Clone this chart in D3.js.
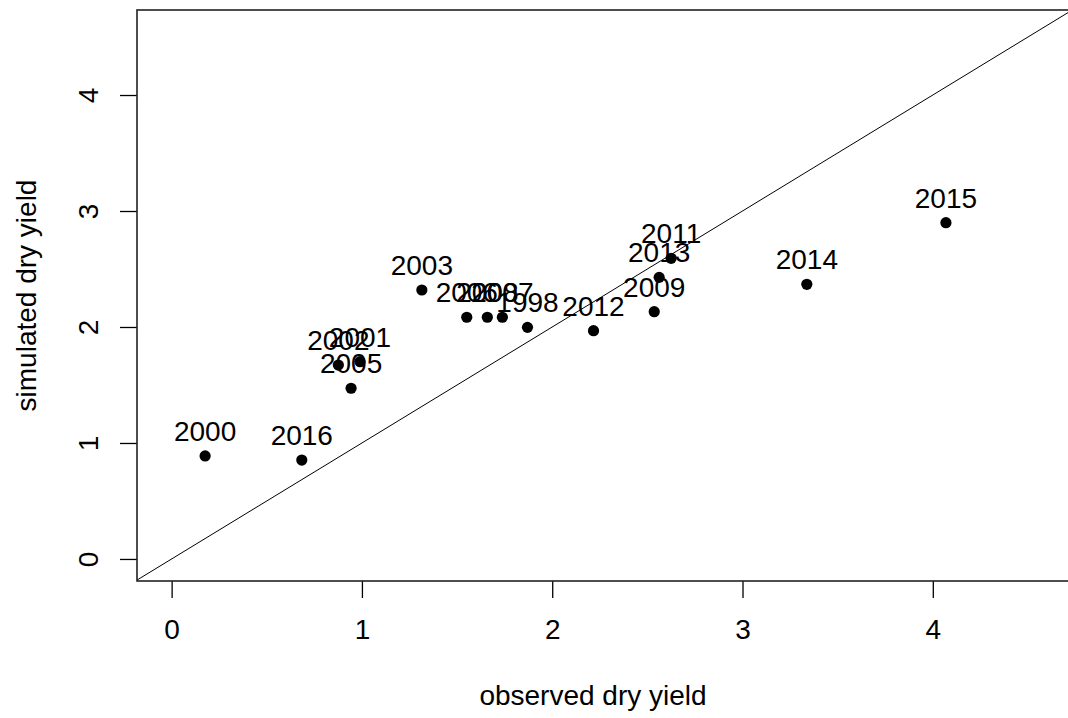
<!DOCTYPE html>
<html>
<head>
<meta charset="utf-8">
<script src="https://cdn.jsdelivr.net/npm/d3@7"></script>
<style>
  html, body { margin: 0; padding: 0; background: #fff; }
  svg text { font-family: Arial, "Liberation Sans", sans-serif; fill: #000; }
</style>
</head>
<body>
<svg id="chart" width="1068" height="718"></svg>
<script>
// Observed vs simulated dry yield by year
const years     = ["1998", "2000", "2001", "2002", "2003", "2005", "2006", "2007", "2008",
                   "2009", "2011", "2012", "2013", "2014", "2015", "2016"];
const observed  = [1.870, 0.176, 0.990, 0.876, 1.315, 0.943, 1.551, 1.738, 1.659,
                   2.536, 2.625, 2.217, 2.562, 3.338, 4.069, 0.684];
const simulated = [1.997, 0.888, 1.701, 1.672, 2.319, 1.472, 2.084, 2.084, 2.084,
                   2.132, 2.592, 1.968, 2.428, 2.368, 2.899, 0.853];
const xTicks = [0, 1, 2, 3, 4];
const yTicks = [0, 1, 2, 3, 4];

const svg = d3.select("#chart");
const plot = { left: 137, top: 10, right: 1074, bottom: 581 };
const fontSize = 28;

const x = d3.scaleLinear().domain([-0.182, 4.742]).range([plot.left, plot.right]);
const y = d3.scaleLinear().domain([-0.19, 4.733]).range([plot.bottom, plot.top]);

svg.append("clipPath").attr("id", "plotClip")
  .append("rect")
  .attr("x", plot.left).attr("y", plot.top)
  .attr("width", plot.right - plot.left).attr("height", plot.bottom - plot.top);

// 1:1 reference line
const dom = x.domain();
svg.append("path")
  .attr("clip-path", "url(#plotClip)")
  .attr("d", d3.line().x(d => x(d)).y(d => y(d))([dom[0], dom[1]]))
  .attr("fill", "none").attr("stroke", "#000").attr("stroke-width", 1);

// points
const pts = years.map((yr, i) => ({ yr, o: observed[i], s: simulated[i] }));
svg.append("g").selectAll("circle").data(pts).join("circle")
  .attr("cx", d => x(d.o)).attr("cy", d => y(d.s)).attr("r", 5.6)
  .attr("fill", "#000");

// year labels above each point
svg.append("g").selectAll("text").data(pts).join("text")
  .attr("x", d => x(d.o)).attr("y", d => y(d.s) - 15)
  .attr("text-anchor", "middle")
  .style("font-size", fontSize + "px")
  .text(d => d.yr);

// axes
const xAxis = d3.axisBottom(x).tickValues(xTicks).tickSize(17).tickSizeOuter(0).tickPadding(21)
  .tickFormat(d3.format("d"));
const gx = svg.append("g").attr("transform", `translate(0,${plot.bottom})`).call(xAxis);
gx.select(".domain").remove();
gx.selectAll(".tick line").attr("stroke", "#000").attr("stroke-width", 1.3);
gx.selectAll(".tick text").style("font-size", fontSize + "px").attr("fill", "#000");

const yAxis = d3.axisLeft(y).tickValues(yTicks).tickSize(17).tickSizeOuter(0)
  .tickFormat(d3.format("d"));
const gy = svg.append("g").attr("transform", `translate(${plot.left},0)`).call(yAxis);
gy.select(".domain").remove();
gy.selectAll(".tick line").attr("stroke", "#000").attr("stroke-width", 1.3);
gy.selectAll(".tick text")
  .style("font-size", fontSize + "px").attr("fill", "#000")
  .attr("x", null).attr("dy", null)
  .attr("text-anchor", "middle")
  .attr("transform", "translate(-39,0) rotate(-90)");

// frame
svg.append("rect")
  .attr("x", plot.left).attr("y", plot.top)
  .attr("width", plot.right - plot.left).attr("height", plot.bottom - plot.top)
  .attr("fill", "none").attr("stroke", "#222").attr("stroke-width", 1.6);

// axis titles
svg.append("text")
  .attr("x", 593).attr("y", 705)
  .attr("text-anchor", "middle")
  .style("font-size", fontSize + "px")
  .text("observed dry yield");

svg.append("text")
  .attr("transform", `translate(36,${(plot.top + plot.bottom) / 2}) rotate(-90)`)
  .attr("text-anchor", "middle")
  .style("font-size", fontSize + "px")
  .text("simulated dry yield");
</script>
</body>
</html>
